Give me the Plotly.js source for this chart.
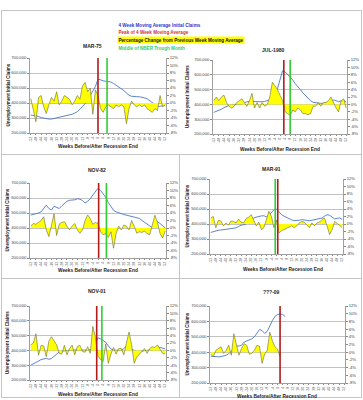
<!DOCTYPE html>
<html><head><meta charset="utf-8">
<script src="https://cdn.plot.ly/plotly-3.0.1.min.js"></script>
<style>html,body{margin:0;padding:0;background:#fff}#chart{width:363px;height:400px}</style>
</head><body><div id="chart"></div>
<script>
// ---------- DATA ----------
const weeks = [-52,-50,-48,-46,-44,-42,-40,-38,-36,-34,-32,-30,-28,-26,-24,-22,-20,-18,-16,-14,-12,-10,-8,-6,-4,-2,0,2,4,6,8,10,12,14,16,18,20,22,24,26,28,30,32,34,36,38,40,42,44,46,48,50,52];
const tickWeeks = [-52,-48,-44,-40,-36,-32,-28,-24,-20,-16,-12,-8,-4,0,4,8,12,16,20,24,28,32,36,40,44,48,52];
const panelTitles = ["MAR-75","JUL-1980","NOV-82","MAR-91","NOV-01","???-09"];

const claims75 = [320000,318000,314000,310000,303000,298000,295000,293000,293000,297000,300000,303000,306000,310000,314000,319000,325000,333000,342000,358000,375000,395000,420000,450000,480000,510000,560000,552000,548000,545000,543000,540000,530000,520000,508000,495000,482000,465000,452000,445000,442000,442000,442000,440000,434000,428000,415000,398000,388000,378000,378000,382000,387000];
const pct75 = [1.2,-1.5,-5,1.5,2,-1,-2.8,-0.5,1.5,0.5,3,-0.5,0.5,2,1.5,1,-0.5,0.5,2,1,4.5,5.5,3,4,-3,3.5,2,-1.5,-2.5,-1,-0.5,-1,-1.5,-0.5,-1,-0.5,-1,-5.5,-1.5,0.5,-0.5,-1,-0.5,-1,-0.5,-1.5,-2,-2.5,-1.5,-2,2,-1,-0.5];

const claims80 = [346000,352000,360000,368000,378000,386000,393000,396000,398000,400000,400000,403000,410000,418000,420000,419000,418000,418000,418000,418000,420000,425000,432000,448000,470000,505000,570000,628000,620000,603000,588000,565000,540000,522000,500000,478000,458000,440000,425000,414000,410000,408000,407000,407000,410000,415000,425000,430000,425000,418000,425000,428000,415000];
const pct80 = [1,2,1,2,2.5,0.5,-0.5,-1,-0.5,0.5,1,1.5,0.5,-0.5,1,3,-1,0.5,-1,0.5,-0.5,0,2,6,5,4,2.5,1,-2,-2.5,-3,-1.5,-2,-1,-1.5,-2.5,-2.5,-2.8,-2.5,-0.5,-0.5,0.5,-0.5,0.5,0.5,1,2,0.5,-1,-2,1,1.5,-1];

const claims82 = [486000,490000,495000,500000,508000,530000,552000,530000,520000,545000,538000,530000,548000,565000,578000,585000,585000,588000,595000,592000,583000,567000,578000,595000,620000,645000,665000,650000,630000,605000,570000,540000,518000,508000,500000,496000,490000,486000,483000,480000,476000,470000,464000,450000,438000,428000,412000,402000,425000,442000,430000,415000,400000];
const pct82 = [0.5,1.2,1,1.5,2,3,-0.5,-2.3,1,3.8,-2,1,1.5,1.7,0.5,-0.5,0.5,1.2,-0.5,-1.4,-0.5,2,3.5,2.5,1,1.5,1.2,-1,-1.8,-1.5,-2.5,-1,-5.4,-1.5,0.5,-0.5,0.8,0.5,-0.5,2,0.5,-1.4,-1,-1.2,-0.8,-1.5,-1.8,0.5,3.4,1.5,-1.5,-2.7,-0.8];

const claims91 = [344000,350000,356000,358000,360000,362000,364000,366000,368000,370000,374000,383000,392000,395000,400000,418000,432000,440000,446000,451000,454000,455000,448000,458000,478000,495000,500000,480000,462000,452000,443000,435000,428000,423000,422000,425000,429000,426000,422000,422000,425000,428000,432000,436000,440000,452000,462000,458000,445000,434000,438000,440000,430000];
const pct91 = [1.6,2,-1,1,0.8,-0.5,0.3,-0.3,0.8,0.7,0.3,1.3,0.5,0.3,1.5,1.8,2.5,0.8,-0.5,0.5,-1.5,-1,1,3.4,2,-1,1,-2.4,-1.8,-1.5,-1.2,-1,-0.5,-1,-0.5,0.3,0.7,0.5,-0.3,-1,0.3,-0.5,0.3,0.5,1.2,1.6,-0.5,-2.8,-1.5,0.7,0.2,-0.5,-1];

const claims01 = [300000,308000,318000,328000,338000,342000,346000,340000,345000,360000,378000,390000,395000,398000,400000,402000,402000,403000,402000,400000,400000,400000,402000,405000,415000,450000,485000,478000,465000,455000,430000,410000,402000,400000,400000,402000,412000,430000,425000,412000,398000,392000,392000,395000,398000,400000,402000,403000,405000,410000,420000,415000,410000];
const pct01 = [1.5,2,4.5,-1.3,1.4,1.2,-1.7,2.5,3.7,2.5,1.5,-0.8,-1,1.4,-1.2,0.5,1.4,-1.2,1,1.4,-0.3,-0.5,1,-0.8,6.5,3.5,-1.5,-2.5,-3,1.8,-3.5,-1,0.8,-1,0.5,0.5,-1.2,2,5,1.5,-3.5,-1.8,-1,-0.5,0.5,-0.8,0.5,1,0.8,1.5,0.5,-0.8,-1];

const claims09 = [374000,372000,370000,370000,372000,374000,380000,390000,405000,425000,440000,440000,445000,466000,472000,478000,487000,500000,525000,548000,540000,522000,535000,575000,605000,632000,645000,648000,645000,632000];
const pct09 = [-0.5,-1.2,0.5,1,1.4,-0.3,0.5,1.8,-0.8,4.8,2,-0.8,1,2.2,1.8,-0.5,-0.3,0.5,1.8,1.5,-2.9,-0.5,0.5,5.2,3,1.4,0.8,-1.2];

const peakWeeks = [0,3,0.5,1,-1,2];
const troughWeeks = [7,8,6.5,-1,3,null];

const claimsTicks = [200000,300000,400000,500000,600000,700000];
const claimsTickText = ["200,000","300,000","400,000","500,000","600,000","700,000"];
const pctTicks = [-8,-6,-4,-2,0,2,4,6,8,10,12];
const pctTickText = ["-8%","-6%","-4%","-2%","0%","2%","4%","6%","8%","10%","12%"];

// ---------- LAYOUT (pixel geometry) ----------
const W = 363, H = 400;
const boxes = [[30,166,58,133],[213,347,60,134],[30,166,183,258],[210,343,179,254],[30,166,306,380],[210,345,306,383]];
const titlePos = [[93,46],[273,50],[97,170],[271,169],[97,291],[271,292]];
const xTitlePos = [[98,146],[280,149],[98,270],[283,269],[98,394],[277,396]];
const yTitleX = [8,188,7,187,7,187];

const claimSeries = [claims75,claims80,claims82,claims91,claims01,claims09];
const pctSeries = [pct75,pct80,pct82,pct91,pct01,pct09];

const FONT = 'Liberation Sans, Arial, sans-serif';
const px = v => v / W, py = v => 1 - v / H;

const traces = [];
const layout = {
  width: W, height: H, margin: {l:0,r:0,t:0,b:0},
  paper_bgcolor: '#fff', plot_bgcolor: '#fff', showlegend: false,
  font: {family: FONT, size: 5, color: '#333'},
  shapes: [], annotations: []
};

for (let k = 0; k < 6; k++) {
  const n = k + 1;
  const xName = n === 1 ? 'x' : 'x' + n;
  const yl = 2*n - 1, yr = 2*n;
  const ylName = yl === 1 ? 'y' : 'y' + yl;
  const yrName = 'y' + yr;
  const [x0,x1,y0,y1] = boxes[k];

  layout['xaxis' + (n === 1 ? '' : n)] = {
    domain: [px(x0), px(x1)], anchor: ylName, range: [-52.6, 52.6],
    tickmode: 'array', tickvals: tickWeeks, ticktext: tickWeeks.map(String),
    tickangle: -90, tickfont: {size: 3.6, color: '#555', family: FONT},
    showline: true, linecolor: '#888', linewidth: 0.8, ticks: 'outside', ticklen: 1.5, tickcolor: '#888',
    showgrid: false, zeroline: false, fixedrange: true
  };
  layout['yaxis' + yl] = {
    domain: [py(y1), py(y0)], anchor: xName, range: [200000, 700000],
    tickmode: 'array', tickvals: claimsTicks, ticktext: claimsTickText,
    tickfont: {size: 4.2, color: '#444', family: FONT},
    showline: true, linecolor: '#888', linewidth: 0.8, ticks: 'outside', ticklen: 2, tickcolor: '#888',
    showgrid: true, gridcolor: '#9a9a9a', gridwidth: 0.6, zeroline: false, fixedrange: true
  };
  layout['yaxis' + yr] = {
    domain: [py(y1), py(y0)], anchor: xName, overlaying: ylName, side: 'right', range: [-8, 12],
    tickmode: 'array', tickvals: pctTicks, ticktext: pctTickText,
    tickfont: {size: 4.2, color: '#444', family: FONT},
    showline: true, linecolor: '#888', linewidth: 0.8, ticks: 'outside', ticklen: 2, tickcolor: '#888',
    showgrid: false, zeroline: false, fixedrange: true
  };

  const pct = pctSeries[k], cl = claimSeries[k];
  traces.push({
    type: 'scatter', mode: 'lines', x: weeks.slice(0, pct.length), y: pct,
    xaxis: xName, yaxis: yrName, fill: 'tozeroy', fillcolor: '#ffff00',
    line: {color: '#6b6b3a', width: 0.6}, hoverinfo: 'skip'
  });
  traces.push({
    type: 'scatter', mode: 'lines', x: weeks.slice(0, cl.length), y: cl,
    xaxis: xName, yaxis: ylName, line: {color: '#4a78c4', width: 0.9}, hoverinfo: 'skip'
  });

  if (troughWeeks[k] !== null) {
    layout.shapes.push({type:'line', xref:xName, yref: ylName + ' domain', x0: troughWeeks[k], x1: troughWeeks[k], y0: 0, y1: 1,
      line: {color: '#33cc33', width: 1.6}});
  }
  layout.shapes.push({type:'line', xref:xName, yref: ylName + ' domain', x0: peakWeeks[k], x1: peakWeeks[k], y0: 0, y1: 1,
    line: {color: '#b31b1b', width: 1.6}});

  layout.annotations.push({xref:'paper', yref:'paper', x: px(titlePos[k][0]), y: py(titlePos[k][1]),
    text: '<b>' + panelTitles[k] + '</b>', showarrow: false, xanchor: 'center', yanchor: 'middle',
    font: {size: 5, color: '#222', family: FONT}});
  layout.annotations.push({xref:'paper', yref:'paper', x: px(xTitlePos[k][0]), y: py(xTitlePos[k][1]),
    text: '<b>Weeks Before/After Recession End</b>', showarrow: false, xanchor: 'center', yanchor: 'middle',
    font: {size: 4.8, color: '#222', family: FONT}});
  layout.annotations.push({xref:'paper', yref:'paper', x: px(yTitleX[k]), y: py((y0 + y1) / 2),
    text: '<b>Unemployment Initial Claims</b>', showarrow: false, textangle: -90, xanchor: 'center', yanchor: 'middle',
    font: {size: 4.6, color: '#222', family: FONT}});
}

// legend text
const legendItems = [
  {t: '4 Week Moving Average Initial Claims', c: '#3333cc', y: 25.5, bg: 'rgba(0,0,0,0)'},
  {t: 'Peak of 4 Week Moving Average', c: '#cc3333', y: 32, bg: 'rgba(0,0,0,0)'},
  {t: 'Percentage Change from Previous Week Moving Average', c: '#111111', y: 39.5, bg: '#ffff00'},
  {t: 'Middle of NBER Trough Month', c: '#33cc66', y: 47.5, bg: 'rgba(0,0,0,0)'}
];
legendItems.forEach(it => layout.annotations.push({xref:'paper', yref:'paper', x: px(117), y: py(it.y),
  text: '<b>' + it.t + '</b>', showarrow: false, xanchor: 'left', yanchor: 'middle', bgcolor: it.bg, borderpad: 0.5,
  font: {size: 4.6, color: it.c, family: FONT}}));

// frame / cell borders
const bc = {color: '#c4c4c4', width: 1};
layout.shapes.push({type:'rect', xref:'paper', yref:'paper', x0: px(1.5), x1: px(361.5), y0: py(397.5), y1: py(10.5), line: bc});
layout.shapes.push({type:'line', xref:'paper', yref:'paper', x0: px(1.5), x1: px(361.5), y0: py(154.5), y1: py(154.5), line: bc});
layout.shapes.push({type:'line', xref:'paper', yref:'paper', x0: px(1.5), x1: px(361.5), y0: py(278.5), y1: py(278.5), line: bc});
layout.shapes.push({type:'line', xref:'paper', yref:'paper', x0: px(179.5), x1: px(179.5), y0: py(154.5), y1: py(397.5), line: bc});

Plotly.newPlot('chart', traces, layout, {staticPlot: true, displayModeBar: false});
</script>
</body></html>
